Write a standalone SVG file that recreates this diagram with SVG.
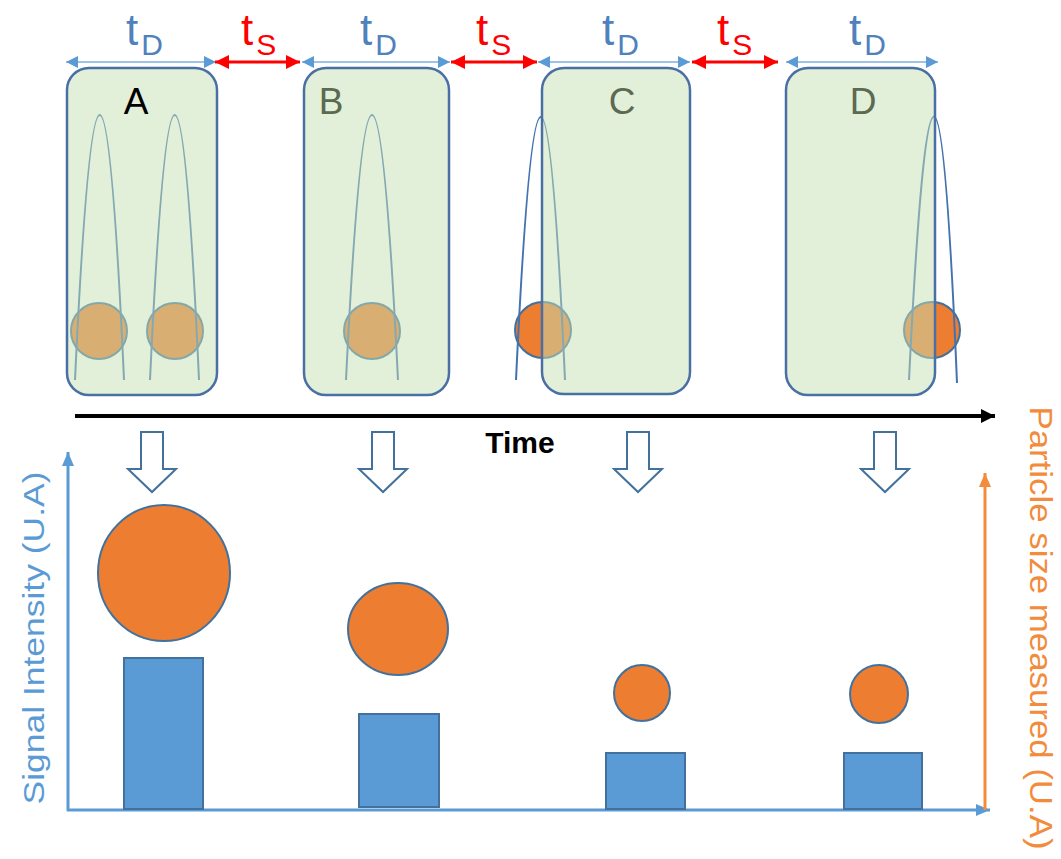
<svg xmlns="http://www.w3.org/2000/svg" width="1061" height="859" viewBox="0 0 1061 859">
<style>
  .box{fill:#c5dfb3;fill-opacity:0.5;stroke:#4a6fa5;stroke-width:2.5}
  .para{fill:none;stroke:#4472b0;stroke-width:2}
  .pc{fill:#ed7d31;stroke:#41719c;stroke-width:2}
  .lbl{font-family:"Liberation Sans",Arial,sans-serif;font-size:37px;text-anchor:middle}
  .td{font-family:"Liberation Sans",Arial,sans-serif;font-size:44px;fill:#4f81bd}
  .ts{font-family:"Liberation Sans",Arial,sans-serif;font-size:44px;fill:#ff0000}
  .dimb{stroke:#9dc3e6;stroke-width:2;fill:none}
  .dimr{stroke:#ff0000;stroke-width:3;fill:none}
  .bar{fill:#5b9bd5;stroke:#41719c;stroke-width:2}
  .big{fill:#ed7d31;stroke:#41719c;stroke-width:2}
  .hollow{fill:#ffffff;stroke:#41719c;stroke-width:2;stroke-linejoin:miter}
</style>
<defs>
  <marker id="bh" viewBox="0 0 12 12" refX="12" refY="6" markerWidth="12" markerHeight="12" markerUnits="userSpaceOnUse" orient="auto-start-reverse"><path d="M0,0 L12,6 L0,12 z" fill="#5b9bd5"/></marker>
  <marker id="rh" viewBox="0 0 14 14" refX="14" refY="7" markerWidth="14" markerHeight="14" markerUnits="userSpaceOnUse" orient="auto-start-reverse"><path d="M0,0 L14,7 L0,14 z" fill="#ff0000"/></marker>
  <marker id="kh" viewBox="0 0 14 14" refX="14" refY="7" markerWidth="14" markerHeight="14" markerUnits="userSpaceOnUse" orient="auto"><path d="M0,0 L14,7 L0,14 z" fill="#000000"/></marker>
  <marker id="ah" viewBox="0 0 14 14" refX="14" refY="7" markerWidth="14" markerHeight="14" markerUnits="userSpaceOnUse" orient="auto"><path d="M0,1 L14,7 L0,13 z" fill="#5b9bd5"/></marker>
  <marker id="oh" viewBox="0 0 14 14" refX="14" refY="7" markerWidth="14" markerHeight="14" markerUnits="userSpaceOnUse" orient="auto"><path d="M0,1 L14,7 L0,13 z" fill="#f28c3c"/></marker>
</defs>

<!-- Top dimension labels -->
<g id="dimension-labels">
  <text class="td" x="126" y="45">t<tspan font-size="30" dx="3" dy="10">D</tspan></text>
  <text class="ts" x="241" y="45">t<tspan font-size="30" dx="3" dy="10">S</tspan></text>
  <text class="td" x="360" y="45">t<tspan font-size="30" dx="3" dy="10">D</tspan></text>
  <text class="ts" x="476" y="45">t<tspan font-size="30" dx="3" dy="10">S</tspan></text>
  <text class="td" x="602" y="45">t<tspan font-size="30" dx="3" dy="10">D</tspan></text>
  <text class="ts" x="717" y="45">t<tspan font-size="30" dx="3" dy="10">S</tspan></text>
  <text class="td" x="849" y="45">t<tspan font-size="30" dx="3" dy="10">D</tspan></text>
</g>

<!-- Node A -->
<g id="node-A">
  <circle class="pc" cx="99" cy="331" r="28"/>
  <circle class="pc" cx="175" cy="331" r="28"/>
  <path class="para" d="M75,380 Q100,-150 124,380"/>
  <path class="para" d="M150,380 Q175,-150 199,380"/>
  <rect class="box" x="67" y="68" width="150" height="327" rx="22"/>
  <text class="lbl" x="136" y="114" fill="#000000">A</text>
</g>

<!-- Node B -->
<g id="node-B">
  <circle class="pc" cx="372" cy="331" r="28"/>
  <path class="para" d="M346,380 Q372,-150 398,380"/>
  <rect class="box" x="304" y="68" width="145" height="327" rx="22"/>
  <text class="lbl" x="331" y="114" fill="#5b6a50">B</text>
</g>

<!-- Node C -->
<g id="node-C">
  <circle class="pc" cx="543" cy="330" r="28"/>
  <path class="para" d="M516,380 Q541,-146 565,380"/>
  <rect class="box" x="542" y="68" width="148" height="326" rx="22"/>
  <text class="lbl" x="622" y="114" fill="#5b6a50">C</text>
</g>

<!-- Node D -->
<g id="node-D">
  <circle class="pc" cx="932" cy="330" r="28"/>
  <path class="para" d="M909,380 Q935,-148 957,383"/>
  <rect class="box" x="786" y="68" width="149" height="327" rx="22"/>
  <text class="lbl" x="863" y="114" fill="#5b6a50">D</text>
</g>

<!-- Connectors -->
<g id="connectors">
  <line class="dimb" x1="66" y1="62" x2="216" y2="62" marker-start="url(#bh)" marker-end="url(#bh)"/>
  <line class="dimr" x1="215" y1="62" x2="300" y2="62" marker-start="url(#rh)" marker-end="url(#rh)"/>
  <line class="dimb" x1="302" y1="62" x2="450" y2="62" marker-start="url(#bh)" marker-end="url(#bh)"/>
  <line class="dimr" x1="451" y1="62" x2="537" y2="62" marker-start="url(#rh)" marker-end="url(#rh)"/>
  <line class="dimb" x1="538" y1="62" x2="690" y2="62" marker-start="url(#bh)" marker-end="url(#bh)"/>
  <line class="dimr" x1="692" y1="62" x2="778" y2="62" marker-start="url(#rh)" marker-end="url(#rh)"/>
  <line class="dimb" x1="786" y1="62" x2="938" y2="62" marker-start="url(#bh)" marker-end="url(#bh)"/>

  <line x1="75" y1="416" x2="995" y2="416" stroke="#000000" stroke-width="4" marker-end="url(#kh)"/>

  <path class="hollow" d="M141,432 H163 V469 H176 L152,492 L128,469 H141 Z"/>
  <path class="hollow" d="M372,432 H394 V469 H407 L383,492 L359,469 H372 Z"/>
  <path class="hollow" d="M627,432 H649 V469 H662 L638,492 L614,469 H627 Z"/>
  <path class="hollow" d="M874,432 H896 V469 H909 L885,492 L861,469 H874 Z"/>

  <line x1="68" y1="811" x2="68" y2="452" stroke="#5b9bd5" stroke-width="3" marker-end="url(#ah)"/>
  <line x1="67" y1="810" x2="990" y2="810" stroke="#5b9bd5" stroke-width="3" marker-end="url(#ah)"/>
  <line x1="985" y1="810" x2="985" y2="473" stroke="#f28c3c" stroke-width="3" marker-end="url(#oh)"/>
</g>

<text x="520" y="453" font-family="'Liberation Sans',Arial,sans-serif" font-size="30" font-weight="bold" text-anchor="middle" fill="#000000">Time</text>

<!-- Measurements -->
<g id="measure-A">
  <ellipse class="big" cx="164" cy="573" rx="66" ry="68"/>
  <rect class="bar" x="124" y="658" width="79" height="151"/>
</g>
<g id="measure-B">
  <ellipse class="big" cx="398" cy="629" rx="50" ry="46"/>
  <rect class="bar" x="359" y="714" width="80" height="93"/>
</g>
<g id="measure-C">
  <circle class="big" cx="642" cy="693" r="28"/>
  <rect class="bar" x="606" y="753" width="79" height="56"/>
</g>
<g id="measure-D">
  <circle class="big" cx="879" cy="694" r="29"/>
  <rect class="bar" x="844" y="753" width="78" height="56"/>
</g>

<g id="axis-labels">
  <text x="44" y="638" transform="rotate(-90 44 638)" font-family="'Liberation Sans',Arial,sans-serif" font-size="30" fill="#5b9bd5" text-anchor="middle" textLength="333" lengthAdjust="spacingAndGlyphs">Signal Intensity (U.A)</text>
  <text x="1030" y="628" transform="rotate(90 1030 628)" font-family="'Liberation Sans',Arial,sans-serif" font-size="31" fill="#f28c3c" text-anchor="middle" textLength="443" lengthAdjust="spacingAndGlyphs">Particle size measured (U.A)</text>
</g>
</svg>
